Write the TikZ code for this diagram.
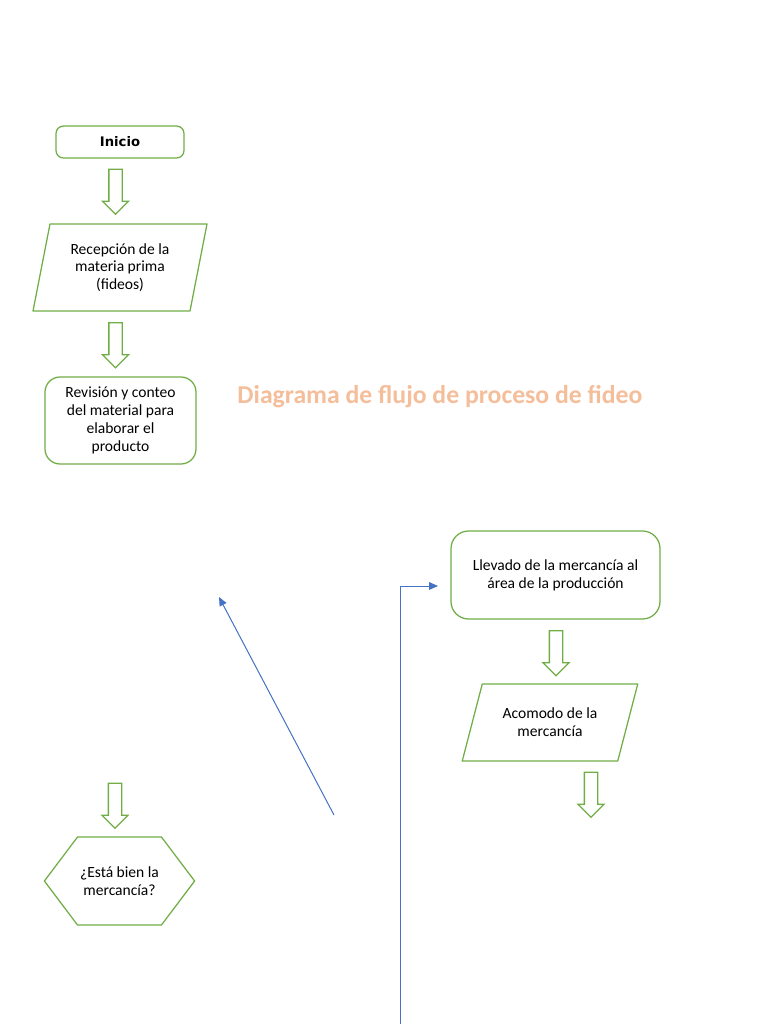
\documentclass[tikz,border=0pt]{standalone}
\usepackage{fontspec}
\setmainfont{Carlito}
\newfontfamily\startfont{DejaVu Sans}
\usepackage{tikz}
\usetikzlibrary{arrows.meta, shapes.arrows, shapes.symbols}
\definecolor{boxgreen}{RGB}{112,173,71}
\definecolor{titleorange}{RGB}{245,190,155}
\definecolor{linkblue}{RGB}{68,114,196}
% one pixel of the page
\def\px{0.797pt}
\tikzset{
    % text inside the boxes
    boxtext/.style={font=\fontsize{12.4}{14.2}\selectfont, align=center},
    % rounded process box
    procbox/.style={draw=boxgreen, line width=1pt, rounded corners=#1, boxtext, inner sep=2pt},
    % input / data box: a parallelogram, its sides leaning by 2*#1
    databox/.style={boxtext, inner sep=2pt, outer sep=0pt,
        append after command={\pgfextra{\draw[boxgreen, line width=1pt, line join=round]
            ([xshift=-#1]\tikzlastnode.south west) -- ([xshift=-#1]\tikzlastnode.south east)
            -- ([xshift=#1]\tikzlastnode.north east) -- ([xshift=#1]\tikzlastnode.north west)
            -- cycle;}}},
    % decision, drawn as a flat hexagon
    decbox/.style={signal, signal to=west and east, signal pointer angle=106,
        draw=boxgreen, line width=1pt, boxtext, inner sep=2pt,
        minimum width=150*\px, minimum height=88*\px},
    % hollow block arrow between steps
    downarrow/.style={single arrow, shape border rotate=270, draw=boxgreen, line width=1pt,
        minimum height=45*\px, minimum width=25*\px, single arrow head extend=6.5*\px,
        single arrow head indent=0pt, inner sep=6*\px},
    % thin blue connector
    link/.style={draw=linkblue, line width=0.8pt, -{Triangle[length=7pt, width=6pt]}},
}

\begin{document}
\begin{tikzpicture}[x=\px, y=-\px]
    \useasboundingbox (0,0) rectangle (768,1024);

    % ---- left column ----
    \node[procbox=6pt, minimum width=128*\px, minimum height=32*\px,
        font=\startfont\fontsize{10.5}{12}\selectfont\bfseries] (inicio) at (120,142) {Inicio};
    \node[downarrow] (a1) at (115.5,188.5) {};
    \node[databox=8.5*\px, minimum width=157*\px, minimum height=87*\px] (recep) at (120,267.5)
        {Recepción de la\\materia prima\\(fideos)};
    \node[downarrow] (a2) at (115.5,342) {};
    \node[procbox=12pt, minimum width=151*\px, minimum height=87*\px] (revis) at (120.5,420.5)
        {Revisión y conteo\\del material para\\elaborar el\\producto};

    % ---- title ----
    \node[text=titleorange, font=\fontsize{20.5}{24}\selectfont\bfseries] (titulo) at (440,397)
        {Diagrama de flujo de proceso de fideo};

    % ---- right column ----
    \node[procbox=14pt, minimum width=209*\px, minimum height=88*\px] (llevado) at (555.5,575)
        {Llevado de la mercancía al\\área de la producción};
    \node[downarrow] (a3) at (556,650) {};
    \node[databox=10*\px, minimum width=155.5*\px, minimum height=77*\px] (acomodo) at (550,722.5)
        {Acomodo de la\\mercancía};
    \node[downarrow] (a4) at (591,791.5) {};

    % ---- decision ----
    \node[downarrow] (a5) at (115,802.5) {};
    \node[decbox] (esta) at (119.5,881) {¿Está bien la\\mercancía?};

    % ---- blue connectors ----
    \coordinate (d1) at (334,815);
    \coordinate (d2) at (219,597);
    \draw[link] (d1) -- (d2);
    \coordinate (e1) at (400,1024);
    \coordinate (e2) at (438,586);
    \draw[link] (e1) |- (e2);

\end{tikzpicture}
\end{document}
